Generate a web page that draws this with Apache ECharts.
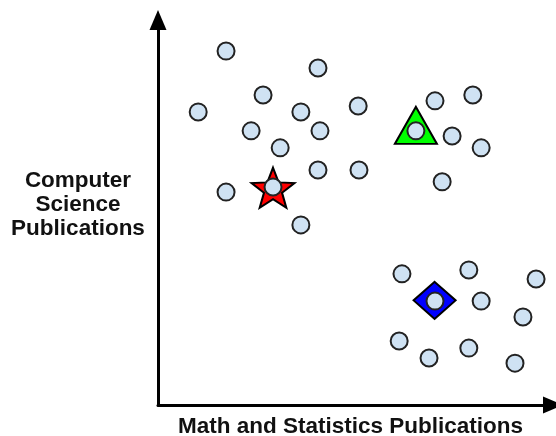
<!DOCTYPE html>
<html>
<head>
<meta charset="utf-8">
<script src="https://cdn.jsdelivr.net/npm/echarts@6/dist/echarts.min.js"></script>
<style>html,body{margin:0;padding:0;background:#fff;}#chart{width:556px;height:436px;}</style>
</head>
<body>
<div id="chart"></div>
<script>
// Data (arbitrary units)
const pointsX = [17.1, 40.2, 26.4, 10.1, 35.9, 50.3, 23.4, 40.7, 30.7, 40.2, 50.5, 17.1, 28.9, 35.9,
                 69.6, 79.1, 64.8, 73.9, 81.2, 71.4,
                 61.3, 78.1, 95.0, 69.6, 81.2, 91.7, 60.6, 68.1, 78.1, 89.7];
const pointsY = [89.6, 85.3, 78.5, 74.2, 74.2, 75.7, 69.4, 69.4, 65.1, 59.5, 59.5, 53.9, 55.2, 45.6,
                 77.0, 78.5, 69.4, 68.1, 65.1, 56.5,
                 33.2, 34.2, 31.9, 26.3, 26.3, 22.3, 16.2, 11.9, 14.4, 10.6];
const centroidStar = [28.9, 55.0];
const centroidTriangle = [64.8, 70.8];
const centroidDiamond = [69.5, 26.5];
const xAxisName = 'Math and Statistics Publications';
const yAxisNameLines = ['Computer', 'Science', 'Publications'];

function starPath() {
  const pts = [];
  for (let i = 0; i < 10; i++) {
    const a = -Math.PI / 2 + i * Math.PI / 5;
    const r = i % 2 === 0 ? 50 : 21;
    pts.push((50 + r * Math.cos(a)).toFixed(2) + ',' + (50 + r * Math.sin(a)).toFixed(2));
  }
  return 'path://M' + pts.join('L') + 'Z';
}

const chart = echarts.init(document.getElementById('chart'), null, {renderer: 'canvas'});
const axisLineStyle = {color: '#000', width: 3};
const nameFont = {fontFamily: 'Liberation Sans, Arial, sans-serif', fontWeight: 'bold', fontSize: 22.5, color: '#111'};
chart.setOption({
  animation: false,
  grid: {left: 158, right: 3, top: 20, bottom: 31, containLabel: false, outerBoundsMode: 'none'},
  xAxis: {
    type: 'value', min: 0, max: 99.25,
    name: xAxisName, nameLocation: 'middle', nameGap: 10.5,
    nameTextStyle: Object.assign({}, nameFont, {padding: [0, 10, 0, 0]}),
    axisLine: {show: true, lineStyle: axisLineStyle, symbol: ['none', 'triangle'], symbolSize: [17, 20]},
    axisTick: {show: false}, axisLabel: {show: false}, splitLine: {show: false}
  },
  yAxis: {
    type: 'value', min: 0, max: 97.47,
    name: yAxisNameLines.join('\n') + '\n{pad| }', nameLocation: 'middle', nameGap: 80, nameRotate: 0,
    nameTextStyle: Object.assign({}, nameFont, {align: 'center', verticalAlign: 'middle', lineHeight: 24,
      rich: {pad: {fontSize: 1, lineHeight: 15}}}),
    axisLine: {show: true, lineStyle: axisLineStyle, symbol: ['none', 'triangle'], symbolSize: [17, 20]},
    axisTick: {show: false}, axisLabel: {show: false}, splitLine: {show: false}
  },
  series: [
    {type: 'scatter', z: 2, symbol: starPath(), symbolSize: [43, 40],
     itemStyle: {color: '#ff0000', borderColor: '#000', borderWidth: 2, opacity: 1},
     data: [centroidStar]},
    {type: 'scatter', z: 2, symbol: 'triangle', symbolSize: [42, 37],
     itemStyle: {color: '#00ff00', borderColor: '#000', borderWidth: 2, opacity: 1},
     data: [centroidTriangle]},
    {type: 'scatter', z: 2, symbol: 'diamond', symbolSize: [42, 37],
     itemStyle: {color: '#0000ff', borderColor: '#000', borderWidth: 2, opacity: 1},
     data: [centroidDiamond]},
    {type: 'scatter', z: 3, symbol: 'circle', symbolSize: 17,
     itemStyle: {color: '#cfe2f3', borderColor: '#222', borderWidth: 2, opacity: 1},
     data: pointsX.map((x, i) => [x, pointsY[i]])}
  ]
});
</script>
</body>
</html>
